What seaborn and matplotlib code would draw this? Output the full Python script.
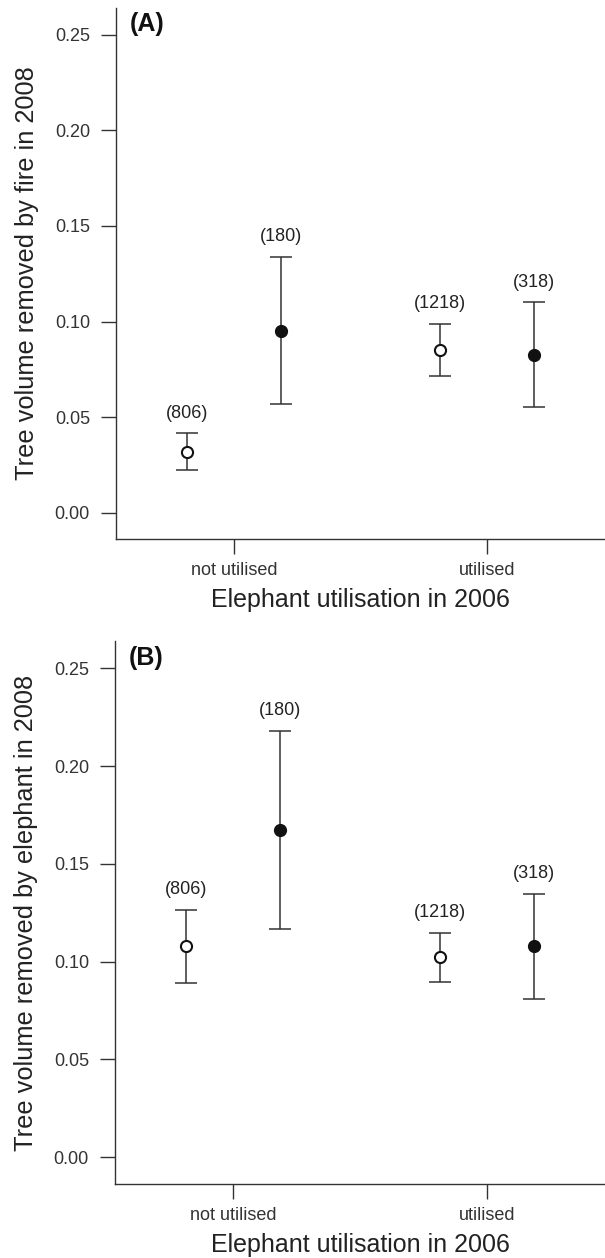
import numpy as np
import pandas as pd
import matplotlib
matplotlib.use("Agg")
import matplotlib.pyplot as plt
import seaborn as sns

# ---------------- data ----------------
groups = ["not utilised", "utilised"]
conds = ["open", "filled"]

# Panel A: tree volume removed by fire in 2008
fire_mean_open = [0.032, 0.085]
fire_lo_open = [0.0225, 0.0715]
fire_hi_open = [0.0415, 0.099]
fire_mean_filled = [0.0953, 0.0826]
fire_lo_filled = [0.0567, 0.0555]
fire_hi_filled = [0.134, 0.110]

# Panel B: tree volume removed by elephant in 2008
ele_mean_open = [0.108, 0.1024]
ele_lo_open = [0.0893, 0.0896]
ele_hi_open = [0.1266, 0.1149]
ele_mean_filled = [0.1672, 0.1079]
ele_lo_filled = [0.1167, 0.0811]
ele_hi_filled = [0.2181, 0.1346]

n_open = ["(806)", "(1218)"]
n_filled = ["(180)", "(318)"]

yticks = [0.00, 0.05, 0.10, 0.15, 0.20, 0.25]
ytick_labels = ["0.00", "0.05", "0.10", "0.15", "0.20", "0.25"]

# ---------------- style ----------------
sns.set_theme(style="ticks")
plt.rcParams["font.family"] = ["Liberation Sans", "DejaVu Sans"]
plt.rcParams["axes.edgecolor"] = "#333333"
plt.rcParams["text.color"] = "#222222"
plt.rcParams["axes.labelcolor"] = "#222222"
plt.rcParams["xtick.color"] = "#333333"
plt.rcParams["ytick.color"] = "#333333"

LINE = "#333333"
W, H = 605, 1258
fig = plt.figure(figsize=(W / 100, H / 100), dpi=100)


def panel(rect, mo, lo_o, hi_o, mf, lo_f, hi_f, ylabel, letter):
    ax = fig.add_axes(rect)
    df = pd.DataFrame({
        "group": groups * 2,
        "cond": ["open"] * 2 + ["filled"] * 2,
        "mean": mo + mf,
        "lo": lo_o + lo_f,
        "hi": hi_o + hi_f,
        "n": n_open + n_filled,
    })
    sns.pointplot(data=df, x="group", y="mean", hue="cond", order=groups,
                  hue_order=conds, dodge=0.372, linestyles="none",
                  errorbar=None, markers="o",
                  palette={"open": "white", "filled": "#111111"},
                  legend=False, ax=ax)
    for line in list(ax.lines):
        xs = np.asarray(line.get_xdata(), dtype=float)
        ys = np.asarray(line.get_ydata(), dtype=float)
        if len(xs) != 2:
            continue
        for c in conds:
            sub = df[df["cond"] == c].set_index("group").loc[groups]
            if np.allclose(ys, sub["mean"].values):
                line.set_markeredgecolor("#111111")
                line.set_markersize(8)
                line.set_markeredgewidth(1.5)
                line.set_zorder(4)
                ax.errorbar(xs, ys,
                            yerr=[ys - sub["lo"].values, sub["hi"].values - ys],
                            fmt="none", ecolor=LINE, elinewidth=1.1,
                            capsize=7.9, capthick=1.1, zorder=2)
                for x, top, lab in zip(xs, sub["hi"].values, sub["n"].values):
                    ax.annotate(lab, (x, top), xytext=(0, 14.5),
                                textcoords="offset points", ha="center",
                                va="center", fontsize=13, color="#222222")
                break
    ax.set_xlim(-0.466, 1.466)
    ax.set_ylim(-0.0137, 0.264)
    ax.set_yticks(yticks)
    ax.set_yticklabels(ytick_labels)
    ax.tick_params(axis="both", length=10.8, width=1.0, labelsize=13)
    ax.tick_params(axis="y", pad=8)
    ax.tick_params(axis="x", pad=5.5)
    ax.set_xlabel("Elephant utilisation in 2006", fontsize=18, labelpad=7)
    ax.set_ylabel(ylabel, fontsize=18.3, labelpad=11)
    for s in ["left", "bottom"]:
        ax.spines[s].set_linewidth(1.0)
    sns.despine(ax=ax)
    ax.text(0.028, 0.969, letter, transform=ax.transAxes, fontsize=18,
            fontweight="bold", ha="left", va="center", color="#111111")
    return ax


panel([116 / W, 1 - 539 / H, (W - 116) / W, (539 - 8) / H],
      fire_mean_open, fire_lo_open, fire_hi_open,
      fire_mean_filled, fire_lo_filled, fire_hi_filled,
      "Tree volume removed by fire in 2008", "(A)")

panel([115 / W, 1 - 1184 / H, (W - 115) / W, (1184 - 641) / H],
      ele_mean_open, ele_lo_open, ele_hi_open,
      ele_mean_filled, ele_lo_filled, ele_hi_filled,
      "Tree volume removed by elephant in 2008", "(B)")

fig.savefig("out.png", dpi=100)
